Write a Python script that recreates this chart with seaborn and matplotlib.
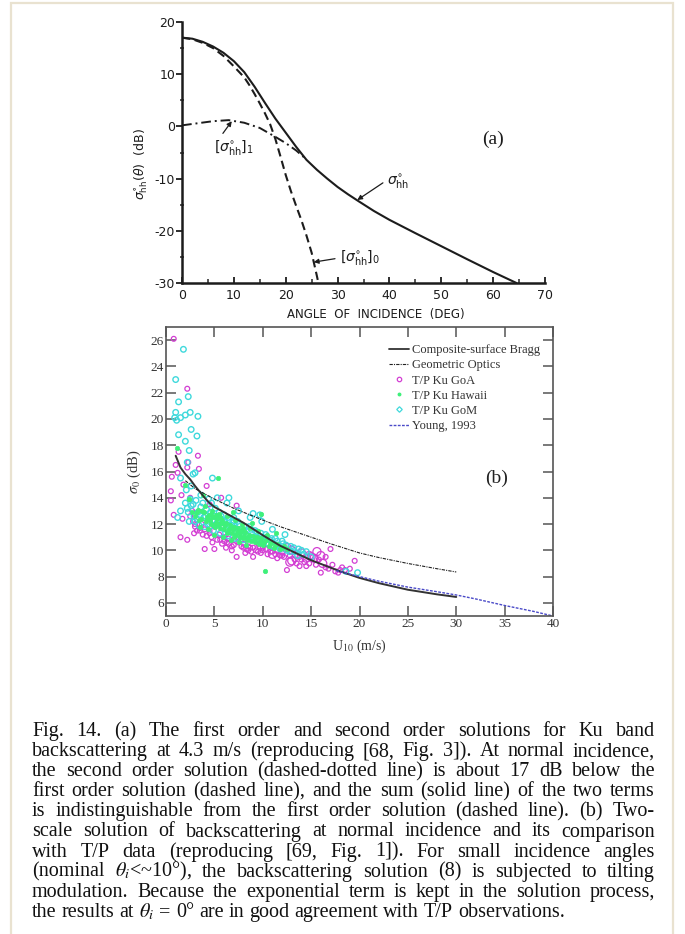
import numpy as np
import pandas as pd
import seaborn as sns
import matplotlib
matplotlib.use("Agg")
import matplotlib.pyplot as plt
from matplotlib.lines import Line2D
from matplotlib.patches import Rectangle
from matplotlib.ticker import MultipleLocator

# ---------------- data: panel (a) ----------------
a_sum_x = [0, 2, 4, 6, 8, 10, 12, 14, 16, 18, 20, 22, 24, 26, 28, 30, 32, 34, 37, 40, 45, 50,
           55, 60, 64.5]
a_sum_y = [17.0, 16.8, 16.2, 15.3, 14.1, 12.5, 10.4, 7.6, 4.5, 1.5, -1.2, -3.9, -6.4, -8.3,
           -10.0, -11.6, -13.0, -14.3, -16.2, -17.9, -20.45, -22.95, -25.45, -27.9, -30.0]
a_first_x = [0, 2, 4, 6, 8, 10, 12, 13, 14, 15, 16, 17, 18, 19, 20, 21, 22, 23, 24, 25, 26, 26.3]
a_first_y = [17.0, 16.7, 16.0, 15.0, 13.5, 11.5, 9.4, 7.9, 6.2, 4.4, 2.5, 0.4, -2.4, -5.8, -9.3,
             -12.4, -15.2, -17.9, -20.9, -24.2, -28.6, -30.0]
a_second_x = [0, 3, 6, 9, 12, 15, 18, 20, 22, 23.5]
a_second_y = [0.2, 0.6, 1.0, 1.2, 0.7, -0.3, -2.0, -3.2, -4.6, -5.9]
a_xticks = [0, 10, 20, 30, 40, 50, 60, 70]
a_yticks = [-30, -20, -10, 0, 10, 20]

# ---------------- data: panel (b) ----------------
bragg_x = [1.0, 1.5, 2, 2.5, 3, 4, 4.5, 5, 6, 7, 8, 10, 11.8, 15, 18, 20, 22, 25, 28, 30]
bragg_y = [17.2, 16.3, 15.8, 15.4, 14.9, 14.0, 13.6, 13.3, 12.9, 12.5, 12.1, 11.15, 10.35, 9.25,
           8.4, 7.9, 7.5, 7.0, 6.65, 6.45]
go_x = [2, 3, 4, 5, 7, 10, 12, 15, 17, 20, 22, 25, 28, 30]
go_y = [15.3, 14.7, 14.3, 13.9, 13.2, 12.3, 11.75, 11.0, 10.5, 9.8, 9.45, 9.0, 8.6, 8.35]
young_x = [17.6, 20, 22, 25, 28, 30, 32, 35, 38, 40]
young_y = [8.45, 8.0, 7.65, 7.2, 6.85, 6.6, 6.3, 5.8, 5.35, 5.0]

goa_small = [(0.8, 26.1), (2.2, 22.3), (1.3, 17.5), (3.3, 17.2), (0.6, 15.6), (1.0, 16.5),
             (0.5, 14.5), (0.5, 13.8), (0.8, 12.7), (1.5, 11.0), (2.2, 10.8), (1.7, 12.4),
             (2.3, 16.7), (2.2, 16.3), (3.4, 16.2), (1.8, 15.0), (4.2, 14.9), (2.5, 14.0),
             (2.9, 11.3), (3.0, 12.0), (3.5, 11.7), (4.0, 10.1), (4.5, 11.5), (5.0, 11.8),
             (5.0, 10.1), (5.6, 10.8), (6.0, 11.0), (6.2, 10.2), (6.5, 10.5), (7.0, 10.8),
             (7.3, 9.5), (7.3, 13.4), (7.5, 11.0), (8.0, 10.5), (8.2, 9.8), (8.5, 10.3),
             (9.0, 10.2), (9.0, 9.5), (9.5, 10.5), (10.0, 10.0), (10.5, 9.7), (11.0, 10.3),
             (11.5, 9.4), (12.0, 9.8), (12.5, 8.5), (13.5, 9.0), (14.0, 9.3), (14.5, 8.8),
             (15.5, 8.9), (16.0, 8.3), (16.5, 8.7), (17.0, 10.1), (17.5, 8.4), (18.0, 8.5),
             (18.5, 8.5), (19.5, 9.2), (4.5, 13.5), (5.7, 14.0), (3.8, 11.2), (4.8, 10.6),
             (6.8, 10.0), (8.8, 9.9), (11.8, 9.6), (13.8, 8.8), (16.8, 8.6), (3.0, 11.8),
             (3.5, 11.5), (4.0, 11.6), (4.5, 11.3), (5.5, 11.2), (6.0, 10.7), (6.5, 10.9),
             (7.0, 10.4), (7.5, 10.6), (8.0, 10.2), (8.5, 10.0), (9.5, 9.9), (10.0, 10.2),
             (11.0, 9.9), (12.0, 9.6), (2.7, 13.0), (1.2, 15.9), (1.6, 14.2),
             (2.5, 12.6), (2.8, 12.2), (3.2, 11.5), (3.7, 12.0), (4.2, 11.1), (4.7, 11.0),
             (5.3, 10.8), (5.8, 10.5), (6.3, 10.6), (6.8, 10.3), (7.8, 10.3), (8.3, 10.1),
             (8.7, 10.2), (9.3, 10.0), (9.8, 9.8), (10.3, 10.1), (10.8, 9.9), (11.3, 9.7),
             (12.2, 9.5), (12.8, 9.6), (13.3, 9.3), (13.8, 9.5), (14.3, 9.1), (14.8, 9.0),
             (15.8, 9.3), (16.5, 9.5), (17.2, 8.9), (18.2, 8.7), (17.8, 8.3), (19.0, 8.6)]
goa_large = [(12.5, 10.2), (13.0, 9.2), (13.0, 10.0), (14.0, 9.8), (14.8, 9.6), (15.0, 9.5),
             (15.3, 9.4), (16.2, 9.0), (10.5, 10.6), (11.5, 10.1), (9.8, 10.4), (15.6, 9.9),
             (11.0, 9.7), (12.0, 10.0), (13.5, 9.7), (14.5, 9.4), (16.0, 9.6), (12.8, 9.1)]
gom_pts = [(1.8, 25.3), (1.0, 23.0), (1.3, 21.3), (2.3, 21.7), (2.0, 20.3), (1.0, 20.5),
           (1.1, 19.9), (0.9, 20.1), (1.5, 20.1), (1.3, 18.8), (2.5, 20.5), (3.3, 20.2),
           (2.6, 19.2), (2.0, 18.3), (3.2, 18.7), (2.4, 17.6), (2.8, 15.8), (3.0, 15.9),
           (2.2, 16.7), (1.5, 15.5), (4.8, 15.5), (1.2, 12.5), (1.5, 13.0), (2.1, 14.6),
           (2.6, 14.9), (3.6, 14.2), (2.0, 13.6), (2.3, 12.9), (2.6, 13.4), (2.9, 12.6),
           (3.1, 13.8), (3.3, 12.9), (3.6, 13.3), (3.9, 12.5), (4.2, 13.1), (4.5, 12.2),
           (4.7, 13.6), (5.0, 12.6), (5.2, 11.9), (5.5, 12.9), (5.8, 12.1), (6.0, 12.7),
           (6.2, 11.6), (6.5, 12.3), (6.8, 11.9), (7.0, 12.5), (7.3, 11.4), (7.6, 12.0),
           (7.9, 11.3), (8.2, 11.8), (8.5, 11.1), (8.8, 11.6), (9.1, 10.9), (9.4, 11.4),
           (9.7, 12.7), (10.0, 10.8), (10.3, 11.2), (10.6, 10.5), (10.9, 10.9), (11.2, 10.3),
           (11.5, 10.7), (11.8, 10.1), (12.1, 10.5), (12.5, 10.0), (12.9, 10.3), (13.3, 9.9),
           (13.7, 10.1), (14.2, 9.7), (3.4, 11.9), (4.0, 11.8), (4.9, 11.5), (5.6, 11.3),
           (6.4, 11.1), (7.2, 10.9), (8.0, 10.8), (2.4, 12.2), (3.0, 12.2), (4.4, 13.9),
           (5.3, 14.0), (6.3, 13.6), (7.5, 13.0), (8.7, 12.5), (9.9, 12.2), (11.0, 11.6),
           (12.3, 11.2), (6.5, 14.0), (9.0, 12.8), (19.8, 8.3), (18.6, 8.4),
           (2.2, 13.2), (2.5, 13.9), (2.8, 13.5), (3.2, 12.4), (3.5, 12.7), (3.8, 13.6),
           (4.1, 12.6), (4.3, 12.0), (4.6, 12.9), (4.8, 12.3), (5.1, 13.2), (5.4, 12.2),
           (5.7, 12.6), (5.9, 11.8), (6.1, 12.2), (6.4, 12.5), (6.6, 11.5), (6.9, 12.2),
           (7.1, 11.7), (7.4, 12.2), (7.7, 11.6), (8.0, 11.5), (8.3, 11.2), (8.6, 11.8),
           (8.9, 11.0), (9.2, 11.5), (9.5, 10.9), (9.8, 11.3), (10.1, 10.6), (10.4, 11.0),
           (10.7, 10.8), (11.0, 10.3), (11.3, 10.9), (11.6, 10.4), (12.0, 10.7), (12.4, 10.4),
           (12.8, 9.9), (13.2, 10.2), (13.6, 9.6), (14.0, 10.0), (14.5, 9.9), (15.0, 9.5)]
hawaii_pts = [(3.0, 12.6), (3.3, 13.1), (3.6, 12.4), (3.9, 12.9), (4.1, 12.2), (4.4, 12.7),
              (4.6, 12.0), (4.9, 12.5), (5.1, 11.8), (5.3, 12.4), (5.6, 11.7), (5.8, 12.3),
              (6.0, 11.6), (6.2, 12.1), (6.4, 11.4), (6.6, 11.9), (6.8, 11.3), (7.0, 11.8),
              (7.2, 11.2), (7.4, 11.7), (7.6, 11.0), (7.8, 11.5), (8.0, 10.9), (8.2, 11.4),
              (8.4, 10.8), (8.6, 11.2), (8.8, 10.7), (9.0, 11.1), (9.2, 10.6), (9.4, 11.0),
              (9.6, 10.5), (9.8, 10.9), (10.0, 10.4), (10.3, 10.8), (10.6, 10.3), (10.9, 10.6),
              (11.2, 10.2), (11.5, 10.5), (11.8, 10.1), (12.2, 10.3), (4.0, 13.4), (4.8, 13.0),
              (5.5, 12.8), (6.3, 12.6), (7.1, 12.3), (7.9, 12.0), (8.7, 11.7), (9.5, 11.5),
              (10.4, 11.2), (4.3, 11.6), (5.0, 11.2), (5.9, 11.0), (6.7, 10.8), (7.5, 10.6),
              (8.3, 10.4), (3.5, 11.8), (2.7, 12.9), (2.4, 13.9), (5.4, 15.5), (10.2, 8.4),
              (9.8, 12.8), (1.1, 17.8), (2.0, 15.0), (3.8, 14.2), (6.9, 12.9), (8.9, 12.1),
              (11.4, 11.3), (3.2, 12.9), (3.4, 12.3), (3.7, 13.0), (4.2, 12.5), (4.5, 12.3),
              (4.7, 12.8), (5.2, 12.1), (5.4, 12.0), (5.7, 12.1), (6.1, 11.9), (6.5, 11.6),
              (6.9, 11.6), (7.3, 11.4), (7.7, 11.3), (8.1, 11.1), (8.5, 11.0), (9.1, 10.8),
              (9.7, 10.7), (10.1, 10.6), (10.7, 10.5), (11.3, 10.4), (12.0, 10.2), (12.5, 10.1),
              (4.9, 11.9), (5.6, 12.5), (6.0, 12.0), (7.0, 11.0), (8.0, 11.7), (9.3, 10.9),
              (7.5, 11.4), (6.3, 11.3), (5.2, 12.7)]
b_xticks = [0, 5, 10, 15, 20, 25, 30, 35, 40]
b_yticks = [6, 8, 10, 12, 14, 16, 18, 20, 22, 24, 26]
legend_labels = ["Composite-surface Bragg", "Geometric Optics", "T/P Ku GoA",
                 "T/P Ku Hawaii", "T/P Ku GoM", "Young, 1993"]

caption_lines = [
    "Fig. 14. (a) The first order and second order solutions for Ku band",
    "backscattering at 4.3 m/s (reproducing [68, Fig. 3]). At normal incidence,",
    "the second order solution (dashed-dotted line) is about 17 dB below the",
    "first order solution (dashed line), and the sum (solid line) of the two terms",
    "is indistinguishable from the first order solution (dashed line). (b) Two-",
    "scale solution of backscattering at normal incidence and its comparison",
    "with T/P data (reproducing [69, Fig. 1]). For small incidence angles",
    r"(nominal $\theta_i$<~10°), the backscattering solution (8) is subjected to tilting",
    "modulation. Because the exponential term is kept in the solution process,",
    r"the results at $\theta_i$ = 0° are in good agreement with T/P observations.",
]

# ---------------- style ----------------
sns.set_theme(style="white")
plt.rcParams["font.family"] = ["DejaVu Sans"]
plt.rcParams["axes.unicode_minus"] = False
INK = "#1c1c1c"
MAG = "#d33fd3"
CYAN = "#3fd9dc"
GREEN = "#3ef07a"
BLUE = "#4a4ac8"
SERIF = "Liberation Serif"

W, H = 685, 934
fig = plt.figure(figsize=(W / 100, H / 100), dpi=100)
fig.patch.set_facecolor("white")
fig.add_artist(Rectangle((11 / W, -0.01), (673 - 11) / W, 1.01 - 3 / H, transform=fig.transFigure,
                         fill=False, ec="#e9e2d0", lw=1.6))

# ================= panel (a) =================
axA = fig.add_axes([182 / W, 1 - 283 / H, 363 / W, 261 / H])
sns.lineplot(x=a_sum_x, y=a_sum_y, ax=axA, color=INK, lw=1.5, sort=False, estimator=None)
sns.lineplot(x=a_first_x, y=a_first_y, ax=axA, color=INK, lw=1.5, sort=False, estimator=None)
axA.lines[-1].set_dashes((4, 2.2))
sns.lineplot(x=a_second_x, y=a_second_y, ax=axA, color=INK, lw=1.4, sort=False, estimator=None)
axA.lines[-1].set_dashes((5, 2, 1, 2))
axA.set_xlim(0, 70)
axA.set_ylim(-30, 20)
axA.set_xticks(a_xticks)
axA.set_yticks(a_yticks)
axA.xaxis.set_minor_locator(MultipleLocator(5))
axA.yaxis.set_minor_locator(MultipleLocator(5))
for s in ["top", "right"]:
    axA.spines[s].set_visible(False)
for s in ["left", "bottom"]:
    axA.spines[s].set_color(INK)
    axA.spines[s].set_linewidth(1.8)
axA.tick_params(axis="y", which="major", direction="out", length=4, width=1.3, pad=1,
                labelsize=9, colors=INK, left=True)
axA.tick_params(axis="y", which="minor", direction="inout", length=3, width=1.1, left=True)
axA.tick_params(axis="x", which="major", direction="in", length=4, width=1.3, pad=4,
                labelsize=9, colors=INK, bottom=True)
axA.tick_params(axis="x", which="minor", direction="in", length=3, width=1.1, bottom=True)
axA.set_xlabel("ANGLE  OF  INCIDENCE  (DEG)", fontsize=8.5, color=INK)
axA.xaxis.set_label_coords(0.534, -0.097)
axA.set_ylabel(r"$\sigma^{\circ}_{\mathrm{hh}}(\theta)$  (dB)", fontsize=9, color=INK,
               math_fontfamily="dejavusans")
axA.yaxis.set_label_coords(-0.088, 0.456)
axA.grid(False)

arr = dict(arrowstyle="-|>", lw=0.9, color=INK, mutation_scale=7, shrinkA=1, shrinkB=0)
axA.annotate(r"$[\sigma^{\circ}_{\mathrm{hh}}]_{1}$", xy=(9.6, 1.0), xytext=(6.2, -4.0),
             ha="left", va="center", fontsize=10, color=INK, math_fontfamily="dejavusans",
             arrowprops=dict(arr, relpos=(0, 0.6)))
axA.annotate(r"$\sigma^{\circ}_{\mathrm{hh}}$", xy=(33.8, -14.1), xytext=(39.6, -10.6),
             ha="left", va="center", fontsize=10, color=INK, math_fontfamily="dejavusans",
             arrowprops=dict(arr, relpos=(0, 0.6)))
axA.annotate(r"$[\sigma^{\circ}_{\mathrm{hh}}]_{0}$", xy=(25.4, -26.0), xytext=(30.4, -25.2),
             ha="left", va="center", fontsize=10, color=INK, math_fontfamily="dejavusans",
             arrowprops=dict(arr, relpos=(0, 0.5)))
axA.text(60.0, -2.5, "(a)", fontsize=14, family=SERIF, ha="center", va="center", color=INK)

# ================= panel (b) =================
axB = fig.add_axes([166 / W, 1 - 616 / H, 387 / W, 289 / H])
goa_s = pd.DataFrame(goa_small, columns=["u", "s0"])
goa_l = pd.DataFrame(goa_large, columns=["u", "s0"])
gom = pd.DataFrame(gom_pts, columns=["u", "s0"])
haw = pd.DataFrame(hawaii_pts, columns=["u", "s0"])

sns.scatterplot(data=goa_s, x="u", y="s0", ax=axB, marker="o", s=12, facecolors="none",
                edgecolor=MAG, linewidth=0.9, legend=False)
sns.scatterplot(data=goa_l, x="u", y="s0", ax=axB, marker="o", s=34, facecolors="none",
                edgecolor=MAG, linewidth=0.9, legend=False)
sns.scatterplot(data=gom, x="u", y="s0", ax=axB, marker="o", s=16, facecolors="none",
                edgecolor=CYAN, linewidth=1.0, legend=False)
sns.scatterplot(data=haw, x="u", y="s0", ax=axB, marker="o", s=10, color=GREEN,
                edgecolor=GREEN, linewidth=0.5, legend=False)

sns.lineplot(x=bragg_x, y=bragg_y, ax=axB, color="#333333", lw=1.4, sort=False, estimator=None)
sns.lineplot(x=go_x, y=go_y, ax=axB, color="#222222", lw=0.8, sort=False, estimator=None)
axB.lines[-1].set_dashes((3, 1, 1, 1))
sns.lineplot(x=young_x, y=young_y, ax=axB, color=BLUE, lw=1.0, sort=False, estimator=None)
axB.lines[-1].set_dashes((2, 1))

axB.set_xlim(0, 40)
axB.set_ylim(5, 27)
axB.set_xticks(b_xticks)
axB.set_yticks(b_yticks)
for s in axB.spines.values():
    s.set_visible(True)
    s.set_color("#555555")
    s.set_linewidth(1.2)
axB.tick_params(which="major", direction="in", length=7, width=1.1, color="#555555",
                top=True, right=True, bottom=True, left=True, pad=1.5,
                labelsize=9.5, labelcolor="#333333", labelfontfamily=SERIF)
axB.set_xlabel(r"U$_{10}$ (m/s)", fontsize=10, family=SERIF, color="#333333",
               math_fontfamily="stix")
axB.xaxis.set_label_coords(0.5, -0.075)
axB.set_ylabel(r"$\sigma_0$ (dB)", fontsize=10.5, family=SERIF, color="#333333",
               math_fontfamily="stix")
axB.yaxis.set_label_coords(-0.06, 0.5)
axB.grid(False)
axB.text(34.2, 15.5, "(b)", fontsize=14, family=SERIF, ha="center", va="center", color="#222222")

handles = [
    Line2D([], [], color="#333333", lw=1.3),
    Line2D([], [], color="#222222", lw=0.8, dashes=(3, 1, 1, 1)),
    Line2D([], [], ls="none", marker="o", ms=3.2, mfc="none", mec=MAG, mew=0.9),
    Line2D([], [], ls="none", marker="o", ms=1.8, color=GREEN),
    Line2D([], [], ls="none", marker="D", ms=2.8, mfc="none", mec=CYAN, mew=0.9),
    Line2D([], [], color=BLUE, lw=1.0, dashes=(2, 1)),
]
leg = axB.legend(handles, legend_labels, loc="upper left", bbox_to_anchor=(0.575, 0.94),
                 frameon=False, handlelength=1.6, handletextpad=0.25, labelspacing=0.25,
                 borderpad=0, borderaxespad=0, prop={"family": SERIF, "size": 9})
for t in leg.get_texts():
    t.set_color("#333333")

# ================= caption (justified) =================
renderer = fig.canvas.get_renderer()
X0, X1 = 32, 655
TARGET = X1 - X0


def widths(words, fs):
    out = []
    for w in words:
        t = fig.text(0, 0, w, fontsize=fs, family=SERIF, math_fontfamily="stix")
        out.append(t.get_window_extent(renderer=renderer).width)
        t.remove()
    return out


fs = 14.0
split = [ln.split(" ") for ln in caption_lines]
space = 0.25 * fs * 100 / 72
nat = [sum(widths(ws, fs)) + space * (len(ws) - 1) for ws in split[:-1]]
fs = fs * TARGET / max(nat) * 0.965
space = 0.25 * fs * 100 / 72

base0, step = 736, 20.1
for i, ws in enumerate(split):
    wl = widths(ws, fs)
    if i < len(split) - 1:
        gap = (TARGET - sum(wl)) / (len(ws) - 1)
    else:
        gap = space
    x = X0
    y = base0 + i * step
    for w, wd in zip(ws, wl):
        fig.text(x / W, 1 - y / H, w, fontsize=fs, family=SERIF, math_fontfamily="stix",
                 ha="left", va="baseline", color="#111111")
        x += wd + gap

fig.savefig("out.png", dpi=100, facecolor="white")
